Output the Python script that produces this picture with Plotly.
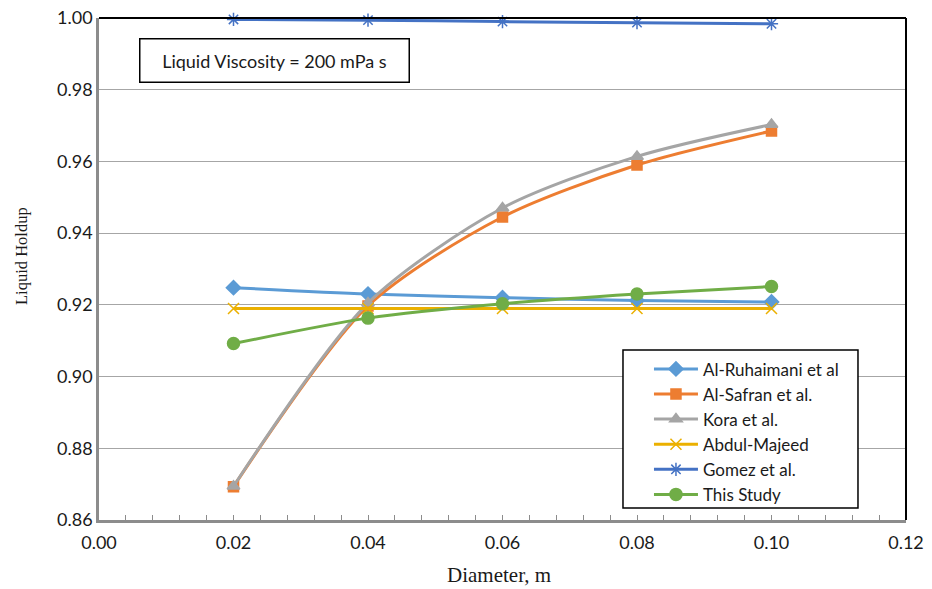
import plotly.graph_objects as go

# Pipe diameter (m)
diameter = [0.02, 0.04, 0.06, 0.08, 0.10]

# Liquid holdup predicted by each model
al_ruhaimani = [0.9248, 0.9230, 0.9220, 0.9212, 0.9208]
al_safran = [0.8693, 0.9197, 0.9445, 0.9590, 0.9685]
kora = [0.8694, 0.9205, 0.9470, 0.9614, 0.9703]
abdul_majeed = [0.9190, 0.9190, 0.9190, 0.9190, 0.9190]
gomez = [0.9996, 0.9994, 0.9990, 0.9987, 0.9984]
this_study = [0.9092, 0.9163, 0.9203, 0.9230, 0.9251]

x_ticks = [0.00, 0.02, 0.04, 0.06, 0.08, 0.10, 0.12]
y_ticks = [0.86, 0.88, 0.90, 0.92, 0.94, 0.96, 0.98, 1.00]

series = [
    ("Al-Ruhaimani et al", al_ruhaimani, "#5B9BD5", "diamond", 11),
    ("Al-Safran et al.", al_safran, "#ED7D31", "square", 10),
    ("Kora et al.", kora, "#A5A5A5", "triangle-up", 11),
    ("Abdul-Majeed", abdul_majeed, "#EBB000", "x-thin-open", 11),
    ("Gomez et al.", gomez, "#4472C4", "asterisk-open", 11),
    ("This Study", this_study, "#70AD47", "circle", 12),
]

fig = go.Figure()
for name, vals, color, symbol, size in series:
    fig.add_trace(go.Scatter(
        x=diameter, y=vals, name=name, mode="lines+markers",
        line=dict(color=color, width=3, shape="spline", smoothing=0.8),
        marker=dict(color=color, symbol=symbol, size=size,
                    line=dict(color=color, width=1.5)),
        cliponaxis=False,
    ))

sans = "Lato, Open Sans, sans-serif"
serif = "Liberation Serif, Times New Roman, serif"
ink = "#1A1A1A"
tick_font = dict(family=sans, size=18, color=ink)

fig.update_layout(
    width=932, height=589,
    margin=dict(l=99, r=26, t=18, b=69),
    paper_bgcolor="white", plot_bgcolor="white",
    showlegend=True,
    legend=dict(
        x=0.6815, y=0.336, xanchor="left", yanchor="top",
        bgcolor="rgba(0,0,0,0)", borderwidth=0,
        font=dict(family=sans, size=17, color=ink),
        tracegroupgap=0, itemwidth=44,
    ),
    xaxis=dict(
        range=[0, 0.12], tickvals=x_ticks, ticktext=[f"{v:.2f}" for v in x_ticks],
        showgrid=False, zeroline=False, automargin=False,
        showline=True, linecolor="#8C8C8C", linewidth=2.5,
        ticks="inside", ticklen=5, tickwidth=1, tickcolor="#8C8C8C",
        minor=dict(dtick=0.004, ticks="inside", ticklen=5, tickwidth=1, tickcolor="#8C8C8C"),
        tickfont=tick_font, ticklabelstandoff=5,
    ),
    yaxis=dict(
        range=[0.86, 1.00], tickvals=y_ticks, ticktext=[f"{v:.2f}" for v in y_ticks],
        showgrid=True, gridcolor="#A6A6A6", gridwidth=1, zeroline=False, automargin=False,
        showline=True, linecolor="#8C8C8C", linewidth=2.5,
        ticks="", tickfont=tick_font,
    ),
    shapes=[
        # frame along the top and right of the plot area
        dict(type="line", xref="paper", yref="paper", x0=0, x1=1, y0=1, y1=1,
             line=dict(color="black", width=2)),
        dict(type="line", xref="paper", yref="paper", x0=1, x1=1, y0=0, y1=1,
             line=dict(color="black", width=2)),
        # legend box
        dict(type="rect", xref="paper", yref="paper",
             x0=0.6493, x1=0.9405, y0=0.0239, y1=0.3386,
             line=dict(color="black", width=1.5), fillcolor="white", layer="above"),
    ],
    annotations=[
        dict(
            xref="paper", yref="paper", x=0.0496, y=0.960, xanchor="left", yanchor="top",
            text="Liquid Viscosity = 200 mPa s", showarrow=False,
            font=dict(family=sans, size=18, color=ink),
            bordercolor="black", borderwidth=1.5, borderpad=10, bgcolor="white",
            width=248, align="center",
        ),
        dict(
            xref="paper", yref="paper", x=0.4957, y=-0.1096,
            xanchor="center", yanchor="middle",
            text="Diameter, m", showarrow=False,
            font=dict(family=serif, size=21, color=ink),
        ),
        dict(
            xref="paper", yref="paper", x=-0.0954, y=0.526,
            xanchor="center", yanchor="middle", textangle=-90,
            text="Liquid Holdup", showarrow=False,
            font=dict(family=serif, size=16.5, color=ink),
        ),
    ],
)

fig.write_html("out.html")
